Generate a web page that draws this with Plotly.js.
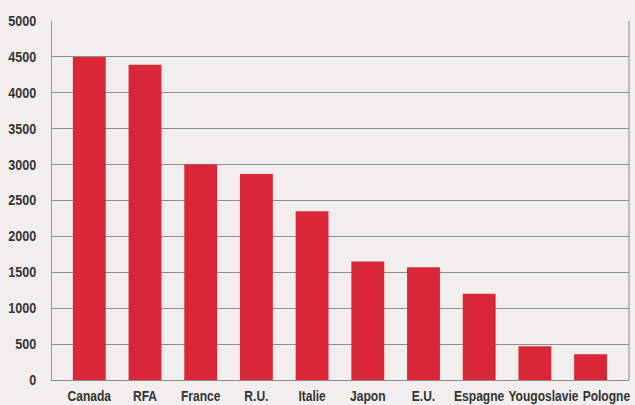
<!DOCTYPE html>
<html>
<head>
<meta charset="utf-8">
<script src="https://cdn.plot.ly/plotly-3.0.1.min.js"></script>
<style>
html,body{margin:0;padding:0;background:#f2eeee;}
#chart{width:635px;height:405px;}
</style>
</head>
<body>
<div id="chart"></div>
<script>
var categories = ["Canada", "RFA", "France", "R.U.", "Italie", "Japon", "E.U.", "Espagne", "Yougoslavie", "Pologne"];
var values = [4500, 4390, 3000, 2870, 2350, 1650, 1570, 1200, 470, 360];
var yTicks = [0, 500, 1000, 1500, 2000, 2500, 3000, 3500, 4000, 4500, 5000];

var font = "'Liberation Sans', Arial, sans-serif";

var trace = {
  type: "bar",
  x: categories,
  y: values,
  width: 0.59,
  marker: {color: "#db2637", line: {width: 0}},
  hoverinfo: "x+y"
};

var layout = {
  width: 635,
  height: 405,
  margin: {l: 52, r: 6, t: 21, b: 25},
  paper_bgcolor: "#f2eeee",
  plot_bgcolor: "#f2eeee",
  showlegend: false,
  xaxis: {
    type: "category",
    range: [-0.67, 9.69],
    showgrid: false,
    showline: true,
    linecolor: "#8a8a8a",
    linewidth: 1,
    ticks: "",
    tickangle: 0,
    automargin: false,
    tickfont: {family: font, size: 14, color: "#333333", weight: "bold"},
    ticklabelstandoff: 3,
    fixedrange: true
  },
  yaxis: {
    range: [0, 5000],
    tickvals: yTicks,
    ticktext: yTicks.map(String),
    showgrid: true,
    gridcolor: "#8f8f8f",
    gridwidth: 1,
    showline: true,
    linecolor: "#9a9a9a",
    linewidth: 1,
    zeroline: false,
    ticks: "",
    automargin: false,
    ticklabelstandoff: 12,
    tickfont: {family: font, size: 14, color: "#333333", weight: "bold"},
    fixedrange: true
  },
  shapes: [{
    type: "line", xref: "paper", yref: "paper",
    x0: 1, x1: 1, y0: 0, y1: 1,
    line: {color: "#8a8a8a", width: 1}
  }]
};

function squeeze(nodes, factor) {
  nodes.forEach(function (t) {
    t.removeAttribute("textLength");
    t.removeAttribute("dx");
    var len = t.getComputedTextLength();
    t.setAttribute("textLength", (len * factor).toFixed(1));
    t.setAttribute("lengthAdjust", "spacingAndGlyphs");
  });
}

function condense(gd) {
  squeeze(gd.querySelectorAll(".ytick text"), 0.9);
  var xs = Array.prototype.slice.call(gd.querySelectorAll(".xtick text"));
  squeeze(xs, 0.86);
  // keep neighbouring category labels from touching: push to the right
  var boxes = xs.map(function (t) { return {t: t, r: t.getBoundingClientRect()}; });
  boxes.sort(function (a, b) { return a.r.left - b.r.left; });
  var prevRight = -Infinity;
  boxes.forEach(function (b) {
    var shift = 0;
    if (b.r.left < prevRight + 4) shift = prevRight + 4 - b.r.left;
    if (shift > 0) b.t.setAttribute("dx", shift.toFixed(1));
    prevRight = b.r.right + shift;
  });
}

Plotly.newPlot("chart", [trace], layout, {displayModeBar: false, staticPlot: true}).then(function (gd) {
  condense(gd);
});
</script>
</body>
</html>
